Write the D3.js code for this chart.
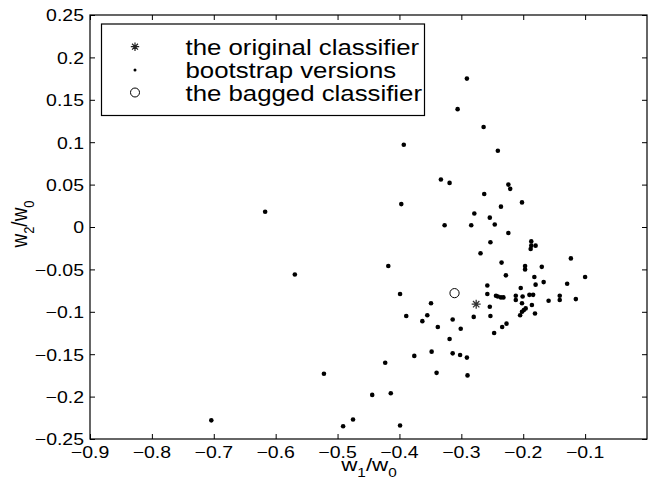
<!DOCTYPE html>
<html>
<head>
<meta charset="utf-8">
<script src="https://cdn.jsdelivr.net/npm/d3@7"></script>
<style>
  html, body { margin: 0; padding: 0; background: #fff; }
  svg { display: block; }
  text { font-family: "Liberation Sans", Arial, Helvetica, sans-serif; fill: #000; }
</style>
</head>
<body>
<svg id="chart" width="652" height="486"></svg>
<script>
// ---- data ----
const bootstrapX = [-0.291,-0.306,-0.264,-0.241,-0.393,-0.333,-0.319,-0.224,-0.221,-0.263,
  -0.397,-0.236,-0.202,-0.279,-0.254,-0.246,-0.327,-0.284,-0.224,-0.253,
  -0.187,-0.187,-0.188,-0.180,-0.269,-0.418,-0.235,-0.123,-0.197,-0.197,
  -0.170,-0.228,-0.182,-0.100,-0.167,-0.180,-0.129,-0.258,-0.204,-0.399,
  -0.258,-0.244,-0.241,-0.236,-0.232,-0.212,-0.212,-0.201,-0.190,-0.184,
  -0.202,-0.186,-0.159,-0.141,-0.141,-0.115,-0.349,-0.254,-0.389,-0.355,
  -0.363,-0.338,-0.314,-0.301,-0.280,-0.253,-0.247,-0.319,-0.234,-0.227,
  -0.348,-0.314,-0.302,-0.291,-0.376,-0.423,-0.522,-0.340,-0.290,-0.444,
  -0.414,-0.491,-0.475,-0.399,-0.205,-0.202,-0.199,-0.196,-0.181,-0.617,
  -0.569,-0.704];
const bootstrapY = [0.175,0.139,0.118,0.090,0.097,0.056,0.052,0.050,0.045,0.039,
  0.027,0.024,0.029,0.016,0.011,0.003,0.002,0.002,-0.007,-0.018,
  -0.017,-0.022,-0.026,-0.022,-0.031,-0.046,-0.042,-0.037,-0.046,-0.050,
  -0.047,-0.057,-0.059,-0.059,-0.065,-0.068,-0.067,-0.069,-0.072,-0.079,
  -0.079,-0.081,-0.082,-0.083,-0.083,-0.081,-0.086,-0.082,-0.080,-0.080,
  -0.090,-0.092,-0.087,-0.081,-0.086,-0.085,-0.090,-0.094,-0.105,-0.104,
  -0.111,-0.118,-0.109,-0.120,-0.106,-0.105,-0.125,-0.132,-0.118,-0.114,
  -0.147,-0.149,-0.151,-0.154,-0.152,-0.160,-0.173,-0.172,-0.175,-0.198,
  -0.196,-0.235,-0.227,-0.234,-0.104,-0.100,-0.098,-0.096,-0.102,0.018,
  -0.056,-0.228];
const originalPoint = [-0.276, -0.091];
const baggedPoint = [-0.311, -0.078];
const xTicks = [-0.9,-0.8,-0.7,-0.6,-0.5,-0.4,-0.3,-0.2,-0.1];
const yTicks = [-0.25,-0.2,-0.15,-0.1,-0.05,0,0.05,0.1,0.15,0.2,0.25];
const xDomain = [-0.9, 0];
const yDomain = [-0.25, 0.25];
const legendLabels = ["the original classifier", "bootstrap versions", "the bagged classifier"];

// ---- layout ----
const L = 90, R = 647, T = 15, B = 439;
const SX = 1.18; // horizontal stretch of the scanned text
const svg = d3.select("#chart");
const x = d3.scaleLinear().domain(xDomain).range([L, R]);
const y = d3.scaleLinear().domain(yDomain).range([B, T]);
const fmt = v => {
  let s = d3.format("")(+v.toFixed(2));
  return s.replace("-", "\u2212");
};

// ticks (inward, all four sides)
svg.append("g").attr("transform", `translate(0,${B})`)
  .call(d3.axisBottom(x).tickValues(xTicks).tickSizeInner(-5).tickSizeOuter(0).tickFormat(""));
svg.append("g").attr("transform", `translate(0,${T})`)
  .call(d3.axisTop(x).tickValues(xTicks).tickSizeInner(-5).tickSizeOuter(0).tickFormat(""));
svg.append("g").attr("transform", `translate(${L},0)`)
  .call(d3.axisLeft(y).tickValues(yTicks).tickSizeInner(-5).tickSizeOuter(0).tickFormat(""));
svg.append("g").attr("transform", `translate(${R},0)`)
  .call(d3.axisRight(y).tickValues(yTicks).tickSizeInner(-5).tickSizeOuter(0).tickFormat(""));
svg.selectAll(".domain").remove();
svg.selectAll(".tick line").attr("stroke", "#000").attr("stroke-width", 1);

// frame
svg.append("rect").attr("x", L).attr("y", T).attr("width", R - L).attr("height", B - T)
  .attr("fill", "none").attr("stroke", "#000").attr("stroke-width", 1.2);

// tick labels
svg.append("g").selectAll("text").data(xTicks).join("text")
  .attr("transform", d => `translate(${x(d)},${457.5}) scale(${SX},1)`)
  .attr("text-anchor", "middle").attr("font-size", 16.5).text(fmt);
svg.append("g").selectAll("text").data(yTicks).join("text")
  .attr("transform", d => `translate(${84},${y(d) + 6.3}) scale(${SX},1)`)
  .attr("text-anchor", "end").attr("font-size", 16.5).text(fmt);

// axis labels
const xl = svg.append("text").attr("transform", `translate(369,471) scale(${SX},1)`)
  .attr("text-anchor", "middle").attr("font-size", 19);
xl.append("tspan").text("w");
xl.append("tspan").attr("font-size", 13).attr("dy", 6).text("1");
xl.append("tspan").attr("dy", -6).text("/w");
xl.append("tspan").attr("font-size", 13).attr("dy", 6).text("0");

const yl = svg.append("text").attr("transform", `translate(27,224) rotate(-90) scale(1,${SX})`)
  .attr("text-anchor", "middle").attr("font-size", 19);
yl.append("tspan").text("w");
yl.append("tspan").attr("font-size", 13).attr("dy", 6).text("2");
yl.append("tspan").attr("dy", -6).text("/w");
yl.append("tspan").attr("font-size", 13).attr("dy", 6).text("0");

// star marker path
function starPath(s) {
  const p = [];
  for (let i = 0; i < 4; i++) {
    const a = i * Math.PI / 4;
    const dx = Math.cos(a) * s, dy = Math.sin(a) * s;
    p.push(`M${-dx},${-dy}L${dx},${dy}`);
  }
  return p.join("");
}

// bootstrap points
const pts = bootstrapX.map((v, i) => [v, bootstrapY[i]]);
svg.append("g").selectAll("circle").data(pts).join("circle")
  .attr("cx", d => x(d[0])).attr("cy", d => y(d[1])).attr("r", 2.3).attr("fill", "#000");

// original classifier
svg.append("path").attr("d", starPath(4.5))
  .attr("transform", `translate(${x(originalPoint[0])},${y(originalPoint[1])})`)
  .attr("stroke", "#333").attr("stroke-width", 1.3).attr("fill", "none");

// bagged classifier
svg.append("circle").attr("cx", x(baggedPoint[0])).attr("cy", y(baggedPoint[1]))
  .attr("r", 4.6).attr("fill", "none").attr("stroke", "#000").attr("stroke-width", 1);

// legend
const lg = svg.append("g");
lg.append("rect").attr("x", 101.5).attr("y", 24).attr("width", 323).attr("height", 91.5)
  .attr("fill", "#fff").attr("stroke", "#000").attr("stroke-width", 1.2);
const rowY = [46.7, 70, 92.5];
lg.append("path").attr("d", starPath(4.2)).attr("transform", `translate(135,${rowY[0]})`)
  .attr("stroke", "#222").attr("stroke-width", 1.2).attr("fill", "none");
lg.append("circle").attr("cx", 135).attr("cy", rowY[1]).attr("r", 1.5).attr("fill", "#000");
lg.append("circle").attr("cx", 135).attr("cy", rowY[2]).attr("r", 4.5)
  .attr("fill", "none").attr("stroke", "#000").attr("stroke-width", 1);
lg.selectAll("text.lab").data(legendLabels).join("text").attr("class", "lab")
  .attr("transform", (d, i) => `translate(185.5,${rowY[i] + 8}) scale(${SX + 0.02},1)`)
  .attr("font-size", 21.5).text(d => d);
</script>
</body>
</html>
